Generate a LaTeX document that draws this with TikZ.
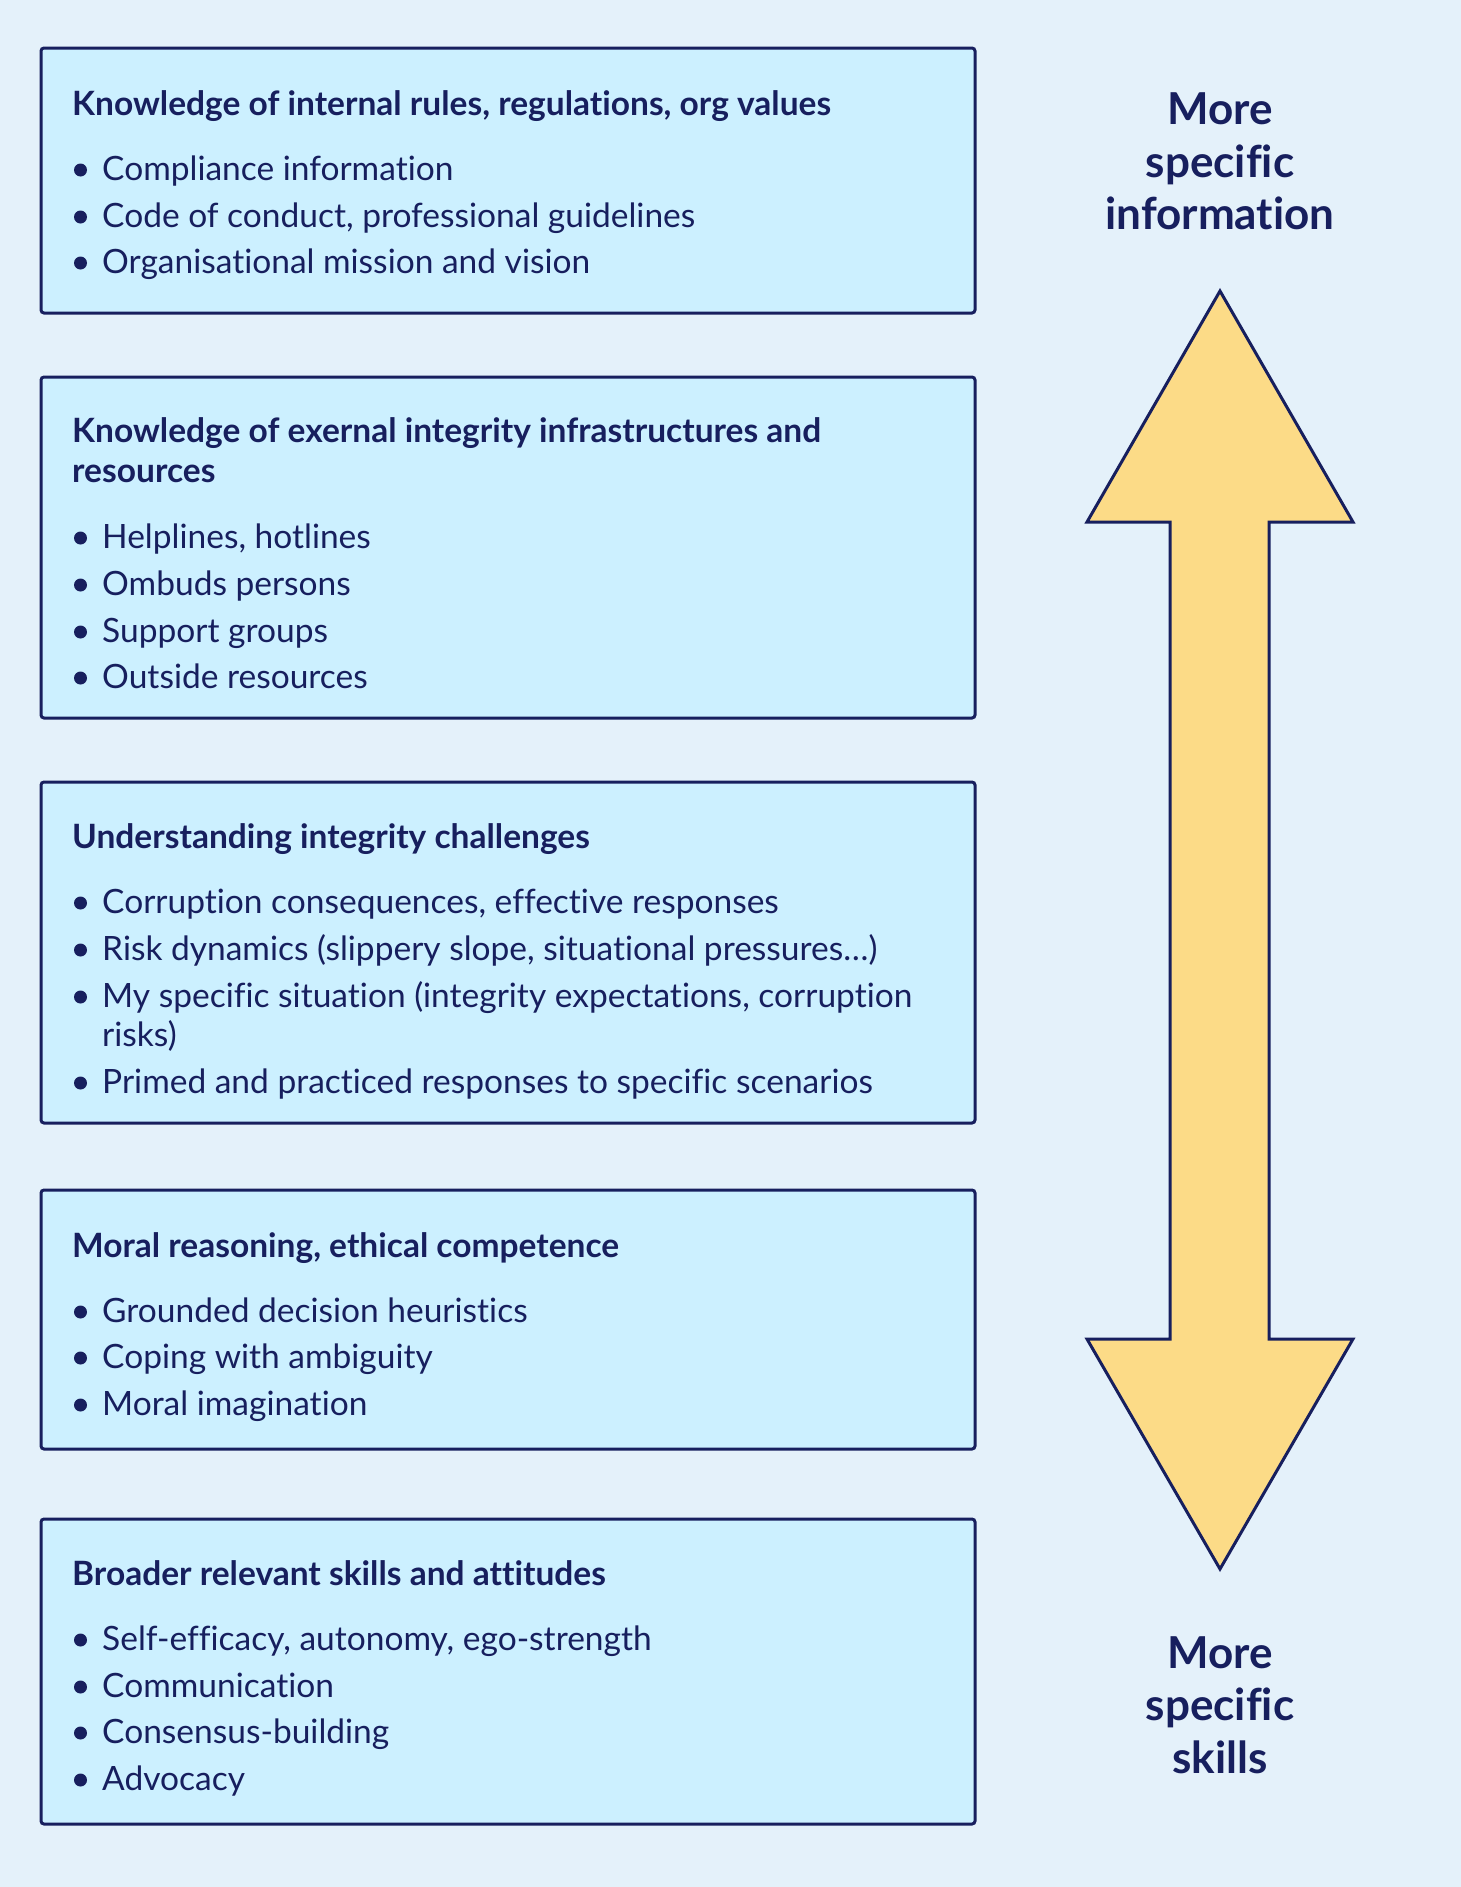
\documentclass[tikz,border=0pt]{standalone}
\usepackage{fontspec}
\setmainfont{Lato}[Ligatures=NoCommon]
\definecolor{bgc}{HTML}{E4F1FA}
\definecolor{boxc}{HTML}{CCF0FF}
\definecolor{navy}{HTML}{171F5E}
\definecolor{arrc}{HTML}{FCDB87}
\begin{document}
\begin{tikzpicture}[x=1pt,y=-1pt,
  panel/.style={draw=navy,fill=boxc,line width=3pt,rounded corners=3pt},
  head/.style={anchor=base west,inner sep=0pt,text=navy,font=\fontsize{33.5}{40}\selectfont\bfseries},
  item/.style={anchor=base west,inner sep=0pt,text=navy,font=\fontsize{33.5}{40}\selectfont},
  side/.style={anchor=base,inner sep=0pt,text=navy,font=\fontsize{44}{52.8}\selectfont\bfseries},
  dotc/.style={fill=navy,draw=none}]
\useasboundingbox (0,0) rectangle (1461,1887);
\fill[bgc] (0,0) rectangle (1461,1887);

% boxes
\draw[panel] (41,48) rectangle (975,313);
\draw[panel] (41,377) rectangle (975,718);
\draw[panel] (41,782) rectangle (975,1123);
\draw[panel] (41,1190) rectangle (975,1449);
\draw[panel] (41,1519) rectangle (975,1824);

% box 1
\node[head] (h1) at (72,115) {Knowledge of internal rules, regulations, org values};
\node[item] (a1) at (102,180) {Compliance information};
\node[item] (a2) at (102,227) {Code of conduct, professional guidelines};
\node[item] (a3) at (102,273) {Organisational mission and vision};
\foreach \yy in {180,227,273} \fill[dotc] (80.5,\yy-10) circle (6.5);

% box 2
\node[head] (h2a) at (72,442) {Knowledge of exernal integrity infrastructures and};
\node[head] (h2b) at (72,482) {resources};
\node[item] (b1) at (102,548) {Helplines, hotlines};
\node[item] (b2) at (102,595) {Ombuds persons};
\node[item] (b3) at (102,642) {Support groups};
\node[item] (b4) at (102,688) {Outside resources};
\foreach \yy in {548,595,642,688} \fill[dotc] (80.5,\yy-10) circle (6.5);

% box 3
\node[head] (h3) at (72,848) {Understanding integrity challenges};
\node[item] (c1) at (102,913) {Corruption consequences, effective responses};
\node[item] (c2) at (102,960) {Risk dynamics (slippery slope, situational pressures…)};
\node[item] (c3a) at (102,1007) {My specific situation (integrity expectations, corruption};
\node[item] (c3b) at (102,1046) {risks)};
\node[item] (c4) at (102,1093) {Primed and practiced responses to specific scenarios};
\foreach \yy in {913,960,1007,1093} \fill[dotc] (80.5,\yy-10) circle (6.5);

% box 4
\node[head] (h4) at (72,1257) {Moral reasoning, ethical competence};
\node[item] (d1) at (102,1322) {Grounded decision heuristics};
\node[item] (d2) at (102,1368) {Coping with ambiguity};
\node[item] (d3) at (102,1415) {Moral imagination};
\foreach \yy in {1322,1368,1415} \fill[dotc] (80.5,\yy-10) circle (6.5);

% box 5
\node[head] (h5) at (72,1585) {Broader relevant skills and attitudes};
\node[item] (e1) at (102,1650) {Self-efficacy, autonomy, ego-strength};
\node[item] (e2) at (102,1697) {Communication};
\node[item] (e3) at (102,1743) {Consensus-building};
\node[item] (e4) at (102,1790) {Advocacy};
\foreach \yy in {1650,1697,1743,1790} \fill[dotc] (80.5,\yy-10) circle (6.5);

% double arrow
\draw[draw=navy,fill=arrc,line width=3pt,line join=miter]
  (1220,291) -- (1353,522) -- (1269,522) -- (1269,1339) -- (1353,1339)
  -- (1220,1569) -- (1087,1339) -- (1170,1339) -- (1170,522) -- (1087,522) -- cycle;

% side labels
\node[side] (t1) at (1220,124) {More};
\node[side] (t2) at (1220,177) {specific};
\node[side] (t3) at (1220,229) {information};
\node[side] (s1) at (1220,1668) {More};
\node[side] (s2) at (1220,1720) {specific};
\node[side] (s3) at (1220,1773) {skills};
\end{tikzpicture}
\end{document}
